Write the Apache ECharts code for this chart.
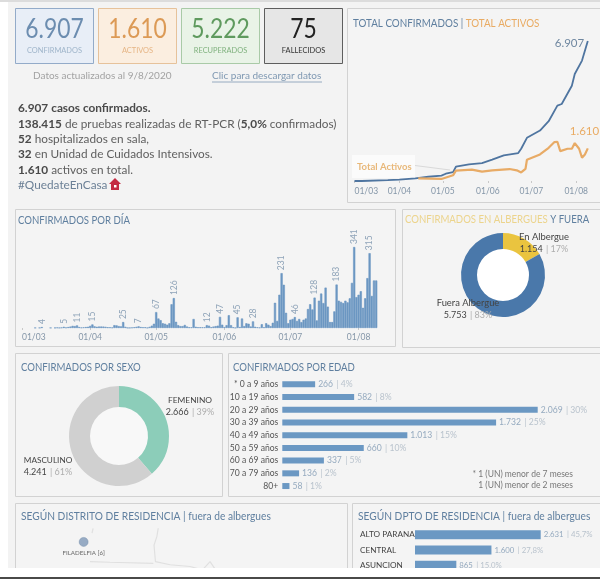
<!DOCTYPE html>
<html>
<head>
<meta charset="utf-8">
<style>
  html, body { margin: 0; padding: 0; background: #fff; }
  #main { width: 600px; height: 579px; }
</style>
<script src="https://cdn.jsdelivr.net/npm/echarts@6/dist/echarts.min.js"></script>
</head>
<body>
<div id="main"></div>
<script>
// acumulados (fechas, dd/mm)
const confirmedDates = ['01/03','06/03','24/03','01/04','12/04','21/04','30/04','03/05','08/05','10/05','19/05','28/05','04/06','12/06','22/06','24/06','28/06','07/07','13/07','19/07','22/07','29/07','31/07','05/08','09/08']
const confirmedValues = [0,1,40,65,130,210,266,360,440,705,820,885,1050,1260,1380,1590,2130,2490,2950,3720,3800,4700,5280,5940,6907]
const activeDates = ['14/04','30/04','08/05','10/05','21/05','28/05','04/06','16/06','21/06','24/06','27/06','28/06','07/07','13/07','17/07','19/07','21/07','26/07','29/07','31/07','03/08','05/08','07/08','09/08']
const activeValues = [130,100,280,510,560,460,525,590,525,425,600,1050,1310,1640,1920,1935,1475,1590,1590,1870,1590,1150,1310,1610]

// confirmados por dia, desde 01/03
const dailyValues = [
  0,0,0,0,0,0,1,0,1,4,
  0,0,0,1,0,1,2,1,2,5,
  2,4,6,9,8,11,4,2,3,4,
  5,9,15,7,5,6,6,6,5,3,
  3,2,12,11,8,7,25,5,1,1,
  2,3,5,7,4,3,3,1,5,10,
  18,67,40,33,20,18,14,20,100,126,
  26,12,8,8,13,6,3,3,38,5,
  3,3,3,3,12,10,3,6,8,10,
  47,14,4,12,54,12,3,1,45,4,
  40,8,20,18,6,28,5,3,2,16,
  3,20,14,8,22,106,30,140,231,182,
  64,20,35,38,46,30,38,25,35,40,
  80,100,78,128,32,115,145,105,170,90,
  25,25,70,183,115,110,105,115,108,125,
  190,341,130,140,155,85,125,210,315,135,
  200,200
]
const labeledDays = [9,19,25,32,46,53,61,69,84,90,98,105,118,124,133,143,151,158]

const shelterNames = ['En Albergue', 'Fuera Albergue']
const shelterValues = [1154, 5753]
const shelterPercents = ['17%', '83%']

const sexNames = ['FEMENINO', 'MASCULINO']
const sexValues = [2666, 4241]
const sexPercents = ['39%', '61%']

const ageLabels = ['* 0 a 9 años','10 a 19 años','20 a 29 años','30 a 39 años','40 a 49 años','50 a 59 años','60 a 69 años','70 a 79 años','80+']
const ageValues = [266,582,2069,1732,1013,660,337,136,58]
const agePercents = ['4%','8%','30%','25%','15%','10%','5%','2%','1%']

const deptLabels = ['ALTO PARANA','CENTRAL','ASUNCION']
const deptValues = [2631,1600,865]
const deptPercents = ['45,7%','27,8%','15,0%']

// distrito: punto y limites del mapa, en lon/lat
const districtPoint = [-60.03, -22.35, 'FILADELFIA [6]']
const mapBorders = [
  [[-59.76,-21.96],[-59.79,-22.10]],
  [[-57.90,-21.96],[-57.94,-22.20],[-58.02,-22.44],[-57.98,-22.91],[-57.56,-23.0],[-56.99,-23.05],[-56.75,-23.12]],
  [[-59.85,-22.91],[-59.28,-22.93],[-58.04,-22.96]],
  [[-56.61,-23.12],[-56.42,-22.91],[-56.28,-23.12]]
]

const cards = [
  { value: '6.907', name: 'CONFIRMADOS', fill: '#e8eef7', line: '#93abc9', num: '#6c8db0', sub: '#9fb5ca' },
  { value: '1.610', name: 'ACTIVOS', fill: '#fbeee0', line: '#e6c29b', num: '#dc9a56', sub: '#e6b585' },
  { value: '5.222', name: 'RECUPERADOS', fill: '#e9f3e7', line: '#a9caa7', num: '#5f9a5e', sub: '#80b27f' },
  { value: '75', name: 'FALLECIDOS', fill: '#e6e6e6', line: '#5e5e5e', num: '#222222', sub: '#333333' }
]

const FONT = 'Lato'
const TITLE = '#5f7f9f'
const fmt = (n) => String(n).replace(/\B(?=(\d{3})+$)/g, '.')

const chart = echarts.init(document.getElementById('main'))

const panel = (x, y, w, h) => ({
  type: 'rect', z: 0, shape: { x, y, width: w, height: h },
  style: { fill: '#f4f4f4', stroke: '#d2d2d2', lineWidth: 1 }
})
// sx: la fuente original es mas estrecha que Lato
const text = (x, y, t, size, fill, extra, sx) => ({
  type: 'text', z: 50, x, y, scaleX: sx || 1,
  style: Object.assign({ text: t, font: size + 'px ' + FONT, fill, verticalAlign: 'middle' }, extra || {})
})
const richText = (x, y, t, size, sx) => ({
  type: 'text', z: 50, x, y, scaleX: sx || 1,
  style: {
    text: t, verticalAlign: 'middle', font: size + 'px ' + FONT,
    rich: {
      b: { font: 'bold ' + size + 'px ' + FONT, fill: '#4a4a4a' },
      n: { font: size + 'px ' + FONT, fill: '#5f5f5f' },
      t: { font: size + 'px ' + FONT, fill: TITLE },
      o: { font: size + 'px ' + FONT, fill: '#e9ab63' },
      y: { font: size + 'px ' + FONT, fill: '#ecd48c' }
    }
  }
})
// etiqueta de dona: nombre + valor | porcentaje
const sliceLabel = (cx, cy, name, value, pct, nameSize) => [
  text(cx, cy, name, nameSize, '#444444', { align: 'center' }),
  { type: 'text', z: 50, x: cx, y: cy + 12.5, style: {
      text: '{b|' + fmt(value) + '} {p|| ' + pct + '}', align: 'center', verticalAlign: 'middle',
      rich: {
        b: { font: '9px ' + FONT, fill: '#444444' },
        p: { font: '9px ' + FONT, fill: '#adadad' }
      }
  } }
]

const graphics = [
  { type: 'rect', z: 0, shape: { x: 8, y: 0, width: 592, height: 568 }, style: { fill: '#f3f3f3' } },
  { type: 'rect', z: 0, shape: { x: 0, y: 0, width: 600, height: 2 }, style: { fill: '#dcdcdc' } },
  panel(347.5, 8.5, 253, 194),
  panel(15.5, 209.5, 380, 137),
  panel(402.5, 209.5, 198, 138),
  panel(15.5, 353.5, 207, 143),
  panel(228.5, 353.5, 372, 143),
  panel(15.5, 503.5, 332, 80),
  panel(352.5, 503.5, 248, 80),
  // huecos de las donas
  { type: 'circle', z: 1, shape: { cx: 503, cy: 275, r: 27 }, style: { fill: '#ffffff' } },
  { type: 'circle', z: 1, shape: { cx: 119, cy: 436, r: 30 }, style: { fill: '#f8f8f8' } },
  // pie de la captura
  { type: 'rect', z: 100, shape: { x: 0, y: 568, width: 600, height: 9 }, style: { fill: '#ffffff' } },
  { type: 'rect', z: 100, shape: { x: 0, y: 577, width: 600, height: 2 }, style: { fill: '#4a4a48' } }
]

cards.forEach((c, i) => {
  const x = 15.5 + i * 83
  graphics.push({ type: 'rect', z: 1, shape: { x, y: 8.5, width: 78, height: 55 }, style: { fill: c.fill, stroke: c.line, lineWidth: 1 } })
  graphics.push(text(x + 39, 30, c.value, 26, c.num, { align: 'center' }, 0.88))
  graphics.push(text(x + 39, 50.5, c.name, 8, c.sub, { align: 'center' }, 0.93))
})

graphics.push(
  text(33, 76, 'Datos actualizados al 9/8/2020', 10, '#a2a2a2'),
  text(212, 76, 'Clic para descargar datos', 10, '#7f98b2'),
  { type: 'line', z: 50, shape: { x1: 212, y1: 82, x2: 322, y2: 82 }, style: { stroke: '#7f98b2', lineWidth: 0.8 } },
  richText(18, 108.5, '{b|6.907} {b|casos confirmados.}', 11.8),
  richText(18, 124, '{b|138.415} {n|de pruebas realizadas de RT-PCR (}{b|5,0%} {n|confirmados)}', 11.8),
  richText(18, 139, '{b|52} {n|hospitalizados en sala,}', 11.8),
  richText(18, 154.5, '{b|32} {n|en Unidad de Cuidados Intensivos.}', 11.8),
  richText(18, 170, '{b|1.610} {n|activos en total.}', 11.8),
  text(18, 185, '#QuedateEnCasa', 11.8, '#6c8096'),
  // casita roja
  { type: 'polygon', z: 50, shape: { points: [[109,184],[115,178],[121,184]] }, style: { fill: '#c42a42' } },
  { type: 'rect', z: 50, shape: { x: 111, y: 184, width: 8, height: 6 }, style: { fill: '#c42a42' } },
  { type: 'rect', z: 51, shape: { x: 114, y: 185, width: 2.5, height: 2.5 }, style: { fill: '#ffffff' } },

  richText(353, 23, '{t|TOTAL CONFIRMADOS |} {o|TOTAL ACTIVOS}', 12, 0.82),
  text(18, 220.5, 'CONFIRMADOS POR DÍA', 12, TITLE, null, 0.8),
  richText(405, 219, '{y|CONFIRMADOS EN ALBERGUES} {t|Y FUERA}', 12, 0.8),
  text(21, 367.5, 'CONFIRMADOS POR SEXO', 12, TITLE, null, 0.8),
  text(233, 367.5, 'CONFIRMADOS POR EDAD', 12, TITLE, null, 0.8),
  text(21, 516.5, 'SEGÚN DISTRITO DE RESIDENCIA | fuera de albergues', 12, TITLE, null, 0.85),
  text(358, 516.5, 'SEGÚN DPTO DE RESIDENCIA | fuera de albergues', 12, TITLE, null, 0.85),

  // anotacion del grafico de lineas
  { type: 'rect', z: 3, shape: { x: 352, y: 155, width: 63, height: 23 }, style: { fill: '#fbfbfb' } },
  text(357, 166.5, 'Total Activos', 9.5, '#e8b87a', { font: 'bold 9.5px ' + FONT }),
  { type: 'line', z: 3, shape: { x1: 415, y1: 165.5, x2: 450, y2: 170 }, style: { stroke: '#d9d9d9', lineWidth: 1 } },

  text(573, 474.5, '* 1 (UN) menor de 7 meses', 8.5, '#777777', { align: 'right' }),
  text(573, 485.5, '1 (UN) menor de 2 meses', 8.5, '#777777', { align: 'right' }),

  ...sliceLabel(544, 237, shelterNames[0], shelterValues[0], shelterPercents[0], 9.4),
  ...sliceLabel(468, 303, shelterNames[1], shelterValues[1], shelterPercents[1], 9.4),
  ...sliceLabel(190, 400, sexNames[0], sexValues[0], sexPercents[0], 8.4),
  ...sliceLabel(48, 460, sexNames[1], sexValues[1], sexPercents[1], 8.2)
)

const barValueLabel = (percents, size) => ({
  show: true, position: 'right', distance: 3,
  formatter: (p) => '{v|' + fmt(p.value) + '} {s|| ' + percents[p.dataIndex] + '}',
  rich: {
    v: { fontFamily: FONT, fontSize: size, color: '#95aabf' },
    s: { fontFamily: FONT, fontSize: size, color: '#b9c3cd' }
  }
})
const dailyCategories = dailyValues.map((_, i) => echarts.time.format(new Date(2020, 2, 1 + i), '{dd}/{MM}'))
const firstOfMonth = (i, v) => v.startsWith('01/')
const monthAxis = (gap, margin) => ({
  type: 'category', data: dailyCategories, boundaryGap: gap,
  axisLine: { show: false },
  axisTick: { show: true, length: 2, alignWithLabel: true, interval: firstOfMonth, lineStyle: { color: '#c8c8c8' } },
  axisLabel: { color: '#8496a8', fontFamily: FONT, fontSize: 8.5, margin, interval: firstOfMonth, alignMinLabel: 'left' }
})

chart.setOption({
  animation: false,
  graphic: { elements: graphics },
  grid: [
    { left: 354.5, top: 41, width: 233.3, height: 140 },
    { left: 20.9, top: 247, width: 356.4, height: 81 },
    { left: 282.3, top: 378, width: 255.4, height: 114.4 },
    { left: 415, top: 527, width: 125.7, height: 46 },
    { left: 15, top: 503, width: 332, height: 74 }
  ],
  xAxis: [
    Object.assign(monthAxis(false, 6), { gridIndex: 0 }),
    Object.assign(monthAxis(true, 5), { gridIndex: 1 }),
    { gridIndex: 2, type: 'value', min: 0, max: 2069, show: false },
    { gridIndex: 3, type: 'value', min: 0, max: 2631, show: false },
    { gridIndex: 4, type: 'value', min: -61.99, max: -52.51, show: false }
  ],
  yAxis: [
    { gridIndex: 0, type: 'value', min: 0, max: 6907, show: false },
    { gridIndex: 1, type: 'value', min: 0, max: 341, show: false },
    {
      gridIndex: 2, type: 'category', inverse: true, data: ageLabels,
      axisLine: { show: false }, axisTick: { show: false },
      axisLabel: { color: '#555555', fontFamily: FONT, fontSize: 8.6, margin: 4, interval: 0 }
    },
    {
      gridIndex: 3, type: 'category', inverse: true, data: deptLabels,
      axisLine: { show: false }, axisTick: { show: false },
      axisLabel: { color: '#444444', fontFamily: FONT, fontSize: 8.2, margin: 55, align: 'left', interval: 0 }
    },
    { gridIndex: 4, type: 'value', min: -23.35, max: -21.24, show: false }
  ],
  series: [
    {
      type: 'line', name: 'Total confirmados', xAxisIndex: 0, yAxisIndex: 0, showSymbol: false, clip: false,
      data: confirmedDates.map((d, i) => [d, confirmedValues[i]]),
      lineStyle: { color: '#4f75a0', width: 1.8 }, itemStyle: { color: '#4f75a0' },
      endLabel: { show: true, offset: [-41, 2], formatter: (p) => fmt(p.value[1]), color: '#6f87a0', fontFamily: FONT, fontSize: 11.5 }
    },
    {
      type: 'line', name: 'Total activos', xAxisIndex: 0, yAxisIndex: 0, showSymbol: false, clip: false,
      data: activeDates.map((d, i) => [d, activeValues[i]]),
      lineStyle: { color: '#e8ab66', width: 2.2 }, itemStyle: { color: '#e8ab66' },
      endLabel: { show: true, offset: [-26, -17], formatter: (p) => fmt(p.value[1]), color: '#e9ab63', fontFamily: FONT, fontSize: 11.5 }
    },
    {
      type: 'bar', name: 'Confirmados por día', xAxisIndex: 1, yAxisIndex: 1, barCategoryGap: 0, clip: false,
      data: dailyValues.map((v, i) => {
        if (v === 0) return { value: v, itemStyle: { opacity: 0 } }
        if (!labeledDays.includes(i)) return v
        return { value: v, label: { show: true, position: 'top', rotate: 90, distance: 3, align: 'left', verticalAlign: 'middle', color: '#8ea3b8', fontFamily: FONT, fontSize: 8.5 } }
      }),
      itemStyle: { color: '#6b97c2', borderColor: '#6b97c2', borderWidth: 0.6 }
    },
    {
      type: 'pie', name: 'Albergues', center: [503, 275], radius: [26, 42], startAngle: 90, label: { show: false }, silent: true,
      data: shelterNames.map((n, i) => ({ name: n, value: shelterValues[i], itemStyle: { color: ['#eac43f', '#4a78aa'][i] } }))
    },
    {
      type: 'pie', name: 'Sexo', center: [119, 436], radius: [29, 50], startAngle: 90, label: { show: false }, silent: true,
      data: sexNames.map((n, i) => ({ name: n, value: sexValues[i], itemStyle: { color: ['#8ccdb9', '#d0d0d0'][i] } }))
    },
    {
      type: 'bar', name: 'Edad', xAxisIndex: 2, yAxisIndex: 2, barWidth: 6, data: ageValues,
      itemStyle: { color: '#6b98c3' }, label: barValueLabel(agePercents, 8.6)
    },
    {
      type: 'bar', name: 'Departamento', xAxisIndex: 3, yAxisIndex: 3, barWidth: 9, data: deptValues, clip: false,
      itemStyle: { color: '#6b98c3' }, label: barValueLabel(deptPercents, 7.8)
    },
  ].concat(mapBorders.map((b) => ({
    type: 'line', xAxisIndex: 4, yAxisIndex: 4, showSymbol: false, silent: true, clip: false, data: b,
    lineStyle: { color: '#e0e0e0', width: 1.2 }
  }))).concat([{
    type: 'scatter', name: 'Distrito', xAxisIndex: 4, yAxisIndex: 4, symbolSize: 9, data: [districtPoint.slice(0, 2)],
    itemStyle: { color: '#7f99b8', borderColor: '#6c87a6', borderWidth: 0.5 },
    label: { show: true, position: 'bottom', distance: 3, formatter: districtPoint[2], color: '#444444', fontFamily: FONT, fontSize: 6.2 }
  }])
})
</script>
</body>
</html>
